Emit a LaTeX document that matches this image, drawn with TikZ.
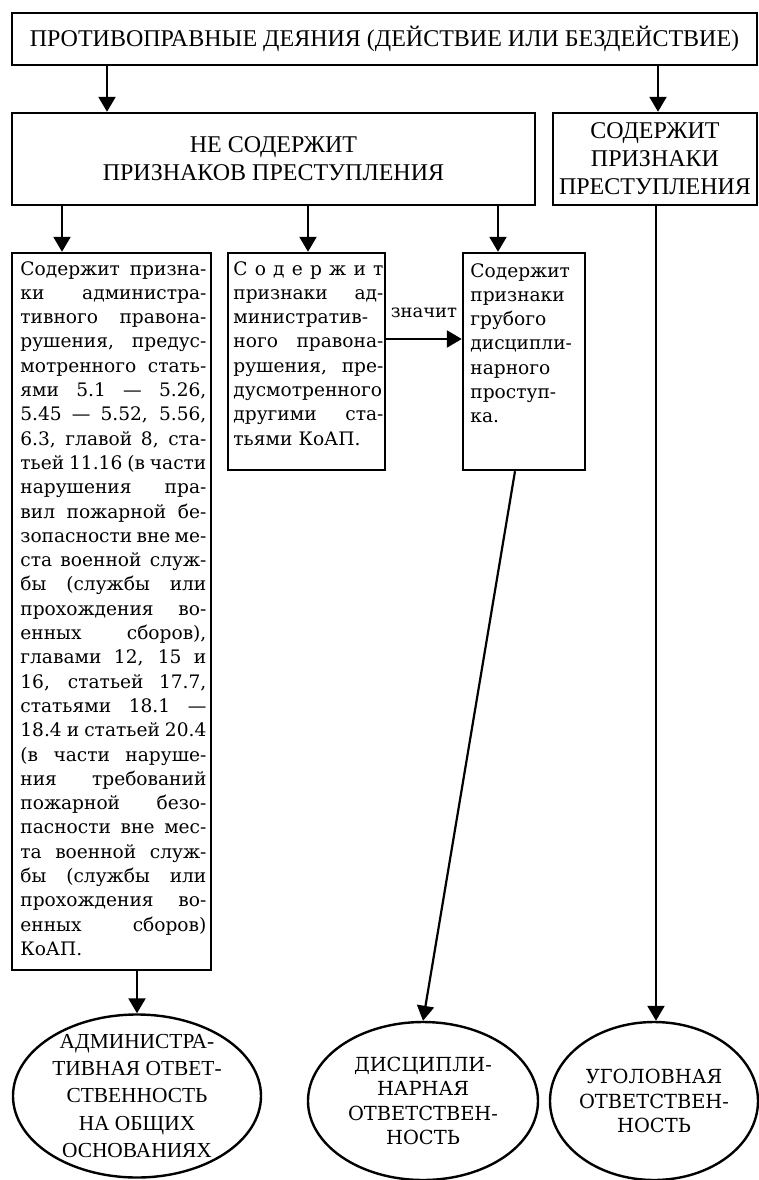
\documentclass[tikz,border=0pt]{standalone}
\usepackage{fontspec}
\setmainfont{DejaVu Serif}
\newfontfamily\capsfont{Liberation Serif}
\usetikzlibrary{arrows.meta,shapes.geometric}

% one justified line of a narrow column
\newcommand{\jline}[2][93pt]{\makebox[#1][s]{\spaceskip=.3em plus 4em minus .15em\relax #2}}

\begin{document}
\begin{tikzpicture}[x=0.5pt, y=-0.5pt, >={Triangle[length=7.5pt,width=8.5pt]},
  block/.style={draw, line width=1.2pt, rectangle, inner sep=0pt},
  heading/.style={font=\capsfont\fontsize{12}{14}\selectfont, align=center},
  bodytext/.style={inner sep=0pt, font=\fontsize{9.3}{12.15}\selectfont},
  verdict/.style={draw, line width=1.2pt, ellipse, inner sep=0pt},
  link/.style={->, line width=1.1pt}]

\useasboundingbox (0,0) rectangle (759,1180);

% deeds and the two cases
\node [block, heading, minimum width=372.5pt, minimum height=26pt] (deed) at (384.5,39)
  {ПРОТИВОПРАВНЫЕ ДЕЯНИЯ (ДЕЙСТВИЕ ИЛИ БЕЗДЕЙСТВИЕ)};
\node [block, heading, minimum width=261.5pt, minimum height=46pt] (nocrime) at (273.5,159)
  {НЕ СОДЕРЖИТ\\ ПРИЗНАКОВ ПРЕСТУПЛЕНИЯ};
\node [block, heading, minimum width=102pt, minimum height=46pt] (crime) at (655,159)
  {СОДЕРЖИТ\\ ПРИЗНАКИ\\ ПРЕСТУПЛЕНИЯ};

% offence boxes
\node [block, minimum width=99.5pt, minimum height=358.5pt] (adm) at (111.5,611.5) {};
\node [block, minimum width=78.5pt, minimum height=108.5pt] (othadm) at (306.5,361.5) {};
\node [block, minimum width=61pt, minimum height=108.5pt] (gross) at (524,361.5) {};

\node [bodytext, text width=93pt, anchor=base west] (adm-text) at (20,275) {%
\jline{Содержит призна-}\\
\jline{ки администра-}\\
\jline{тивного правона-}\\
\jline{рушения, предус-}\\
\jline{мотренного стать-}\\
\jline{ями 5.1 — 5.26,}\\
\jline{5.45 — 5.52, 5.56,}\\
\jline{6.3, главой 8, ста-}\\
\jline{тьей 11.16 (в части}\\
\jline{нарушения пра-}\\
\jline{вил пожарной бе-}\\
\jline{зопасности вне ме-}\\
\jline{ста военной служ-}\\
\jline{бы (службы или}\\
\jline{прохождения во-}\\
\jline{енных сборов),}\\
\jline{главами 12, 15 и}\\
\jline{16, статьей 17.7,}\\
\jline{статьями 18.1 —}\\
\jline{18.4 и статьей 20.4}\\
\jline{(в части наруше-}\\
\jline{ния требований}\\
\jline{пожарной безо-}\\
\jline{пасности вне мес-}\\
\jline{та военной служ-}\\
\jline{бы (службы или}\\
\jline{прохождения во-}\\
\jline{енных сборов)}\\
КоАП.};

\node [bodytext, text width=75pt, anchor=base west] (othadm-text) at (233,275) {%
\jline[75pt]{С о д е р ж и т}\\
\jline[75pt]{признаки ад-}\\
\jline[75pt]{министратив-}\\
\jline[75pt]{ного правона-}\\
\jline[75pt]{рушения, пре-}\\
\jline[75pt]{дусмотренного}\\
\jline[75pt]{другими ста-}\\
тьями КоАП.};

\node [bodytext, text width=56pt, align=left, anchor=base west] (gross-text) at (470,277)
  {Содержит\\ признаки\\ грубого\\ дисципли-\\ нарного\\ проступ-\\ ка.};

% responsibility
\node [verdict, minimum width=124pt, minimum height=81.5pt] (admresp) at (137,1096) {};
\node [verdict, minimum width=115pt, minimum height=79pt] (discresp) at (423,1101) {};
\node [verdict, minimum width=104pt, minimum height=79pt] (crimresp) at (654,1101) {};

\node [align=center, font=\capsfont\fontsize{10.7}{13.6}\selectfont] (admresp-text) at (admresp)
  {АДМИНИСТРА-\\ ТИВНАЯ ОТВЕТ-\\ СТВЕННОСТЬ\\ НА ОБЩИХ\\ ОСНОВАНИЯХ};
\node [align=center, font=\fontsize{9.7}{12.2}\selectfont] (discresp-text) at (discresp)
  {ДИСЦИПЛИ-\\ НАРНАЯ\\ ОТВЕТСТВЕН-\\ НОСТЬ};
\node [align=center, font=\fontsize{9.7}{12.2}\selectfont] (crimresp-text) at (crimresp)
  {УГОЛОВНАЯ\\ ОТВЕТСТВЕН-\\ НОСТЬ};

% connectors
\draw [link] (deed.south -| 107,0) -- (nocrime.north -| 107,0);
\draw [link] (deed.south -| 658,0) -- (crime.north -| 658,0);

\foreach \t/\x in {adm/62, othadm/308, gross/498}
  \draw [link] (nocrime.south -| \x,0) -- (\t.north -| \x,0);

\draw [link] (othadm.east |- 0,339) -- (gross.west |- 0,339)
  node [midway, above=10pt, inner sep=0pt, font=\fontsize{9}{11}\selectfont] (means) {значит};

\draw [link] (adm.south -| admresp.north) -- (admresp.north);
\draw [link] (gross.south -| 515,0) -- (discresp.north);
\draw [link] (crime.south -| 656,0) -- (crimresp.north -| 656,0);

\end{tikzpicture}
\end{document}
